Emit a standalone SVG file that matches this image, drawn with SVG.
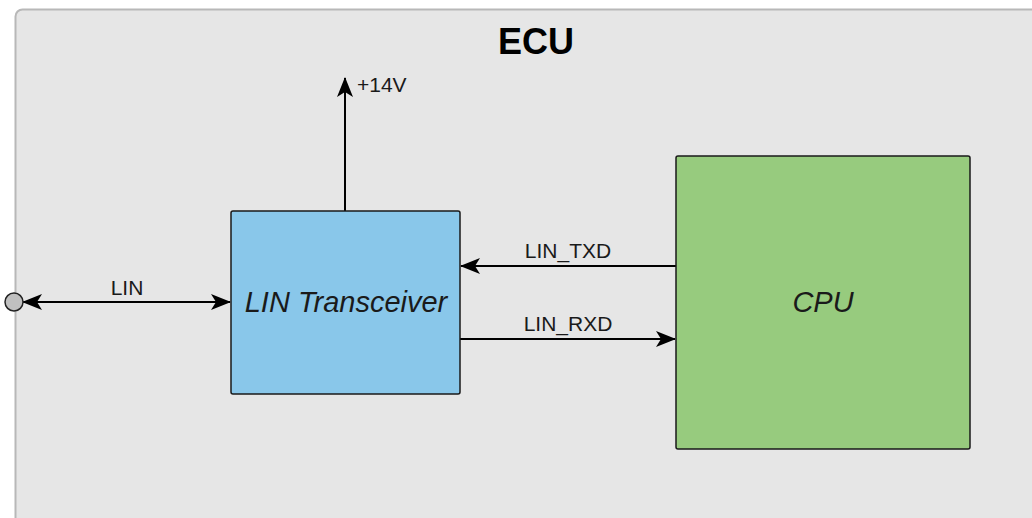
<svg xmlns="http://www.w3.org/2000/svg" width="1032" height="518" viewBox="0 0 1032 518">
<style>
.lbl{font-family:"Liberation Sans",Arial,sans-serif;font-size:21px;fill:#1a1a1a}
.big{font-family:"Liberation Sans",Arial,sans-serif;font-size:29px;font-style:italic;fill:#1a1a1a;text-anchor:middle}
.wire{stroke:#000;stroke-width:2;fill:none}
</style>
<defs>
<marker id="ah" viewBox="0 0 20 16" refX="19" refY="8" markerWidth="20" markerHeight="16" markerUnits="userSpaceOnUse" orient="auto-start-reverse">
<path d="M0,0 L20,8 L0,16 L5,8 Z" fill="#000"/>
</marker>
</defs>
<rect width="1032" height="518" fill="#ffffff"/>
<g id="ecu">
<rect x="15.5" y="9.5" width="1040" height="540" rx="7" fill="#e6e6e6" stroke="#b8b8b8" stroke-width="2"/>
<text x="536" y="54" font-family="'Liberation Sans',Arial,sans-serif" font-size="36" font-weight="bold" text-anchor="middle" fill="#000">ECU</text>
</g>
<g id="connectors">
<line class="wire" x1="23" y1="302" x2="230" y2="302" marker-start="url(#ah)" marker-end="url(#ah)"/>
<text class="lbl" x="127" y="295" text-anchor="middle">LIN</text>
<line class="wire" x1="345" y1="211" x2="345" y2="78" marker-end="url(#ah)"/>
<text class="lbl" x="357" y="92">+14V</text>
<line class="wire" x1="676" y1="266" x2="461" y2="266" marker-end="url(#ah)"/>
<text class="lbl" x="568" y="258" text-anchor="middle">LIN_TXD</text>
<line class="wire" x1="460" y1="339" x2="675" y2="339" marker-end="url(#ah)"/>
<text class="lbl" x="568" y="331" text-anchor="middle">LIN_RXD</text>
</g>
<g id="lin-port">
<circle cx="14" cy="302" r="9" fill="#c0c0c0" stroke="#222" stroke-width="1.5"/>
</g>
<g id="transceiver">
<rect x="231" y="211" width="229" height="183" rx="2" fill="#89c7ea" stroke="#1a1a1a" stroke-width="1.5"/>
<text class="big" x="346" y="312">LIN Transceiver</text>
</g>
<g id="cpu">
<rect x="676" y="156" width="294" height="293" rx="2" fill="#97cb7e" stroke="#1a1a1a" stroke-width="1.5"/>
<text class="big" x="823" y="312">CPU</text>
</g>
</svg>
